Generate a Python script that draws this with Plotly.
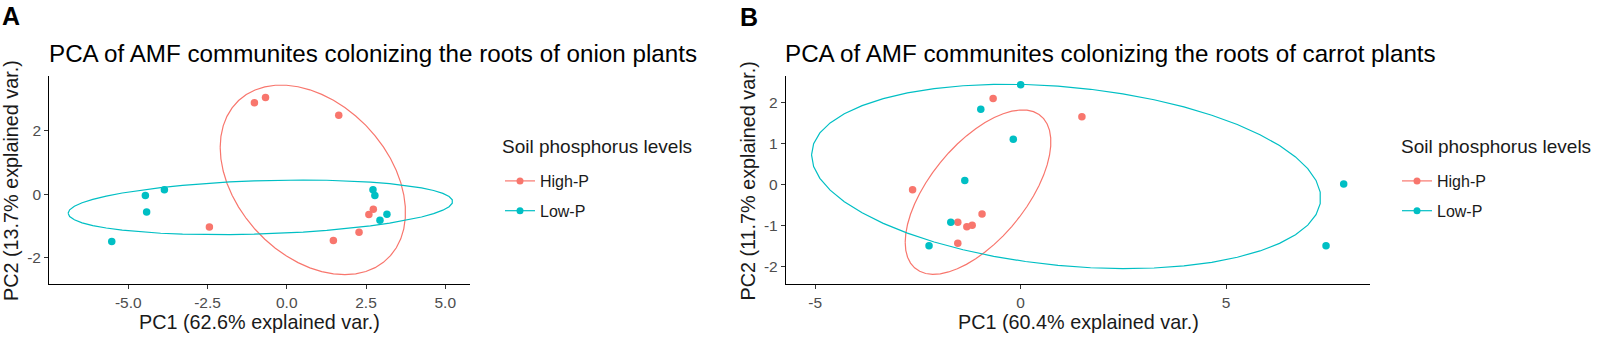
import numpy as np
import plotly.graph_objects as go

# ---------------- data ----------------
groups = ["High-P", "Low-P"]
colors = {"High-P": "#F8766D", "Low-P": "#00BFC4"}

# Panel A: onion
onion_high_pc1 = [-1.02, -0.67, 1.64, -2.44, 1.47, 2.28, 2.59, 2.73]
onion_high_pc2 = [2.89, 3.05, 2.49, -1.03, -1.46, -1.20, -0.64, -0.47]
onion_low_pc1 = [-5.52, -4.46, -4.42, -3.86, 2.72, 2.78, 2.94, 3.16]
onion_low_pc2 = [-1.49, -0.04, -0.56, 0.14, 0.14, -0.04, -0.82, -0.63]

# Panel B: carrot
carrot_high_pc1 = [-0.67, 1.49, -2.63, -1.53, -1.31, -1.18, -0.94, -1.53]
carrot_high_pc2 = [2.09, 1.65, -0.13, -0.92, -1.03, -0.99, -0.72, -1.43]
carrot_low_pc1 = [0.00, -0.97, -0.18, -1.36, -1.70, -2.23, 7.86, 7.43]
carrot_low_pc2 = [2.43, 1.83, 1.10, 0.10, -0.92, -1.49, 0.01, -1.49]

# ticks
a_xticks = [-5.0, -2.5, 0.0, 2.5, 5.0]
a_xticklabels = ["-5.0", "-2.5", "0.0", "2.5", "5.0"]
a_yticks = [-2, 0, 2]
a_yticklabels = ["-2", "0", "2"]
b_xticks = [-5, 0, 5]
b_xticklabels = ["-5", "0", "5"]
b_yticks = [-2, -1, 0, 1, 2]
b_yticklabels = ["-2", "-1", "0", "1", "2"]

title_a = "PCA of AMF communites colonizing the roots of onion plants"
title_b = "PCA of AMF communites colonizing the roots of carrot plants"
xlab_a = "PC1 (62.6% explained var.)"
ylab_a = "PC2 (13.7% explained var.)"
xlab_b = "PC1 (60.4% explained var.)"
ylab_b = "PC2 (11.7% explained var.)"
legend_title = "Soil phosphorus levels"

ELLIPSE_PROB = 0.68

W, H = 1600, 337
FONT = "Liberation Sans, Arial, sans-serif"
TXT = "#1a1a1a"


def px(x):
    return x / W


def py(y):
    return 1 - y / H


def ellipse(xs, ys, prob=ELLIPSE_PROB):
    # ggbiplot-style normal data ellipse
    theta = np.concatenate([np.linspace(-np.pi, np.pi, 50), np.linspace(np.pi, -np.pi, 50)])
    circle = np.column_stack([np.cos(theta), np.sin(theta)])
    data = np.column_stack([xs, ys])
    sigma = np.cov(data, rowvar=False)
    mu = data.mean(axis=0)
    ed = np.sqrt(-2 * np.log(1 - prob))  # qchisq(prob, df=2)
    R = np.linalg.cholesky(sigma).T
    pts = circle @ R * ed + mu
    return pts[:, 0], pts[:, 1]


fig = go.Figure()

panels = [
    ("x", "y", "legend", {"High-P": (onion_high_pc1, onion_high_pc2), "Low-P": (onion_low_pc1, onion_low_pc2)}),
    ("x2", "y2", "legend2", {"High-P": (carrot_high_pc1, carrot_high_pc2), "Low-P": (carrot_low_pc1, carrot_low_pc2)}),
]

for xa, ya, leg, d in panels:
    for g in groups:
        xs, ys = d[g]
        ex, ey = ellipse(xs, ys)
        fig.add_trace(go.Scatter(x=ex, y=ey, mode="lines", line=dict(color=colors[g], width=1.2),
                                 xaxis=xa, yaxis=ya, showlegend=False, hoverinfo="skip"))
    for g in groups:
        xs, ys = d[g]
        fig.add_trace(go.Scatter(x=xs, y=ys, mode="markers", marker=dict(color=colors[g], size=7.5),
                                 xaxis=xa, yaxis=ya, showlegend=False))
    for g in groups:
        fig.add_trace(go.Scatter(x=[None], y=[None], mode="lines+markers", name=g,
                                 line=dict(color=colors[g], width=1.2), marker=dict(color=colors[g], size=7),
                                 xaxis=xa, yaxis=ya, legend=leg, legendgroup=leg + g))

ydom = [py(284), py(76)]
axis_common = dict(showgrid=False, zeroline=False, showline=True, linecolor="#000000", linewidth=1.2,
                   ticks="outside", ticklen=4, tickcolor="#333333", tickwidth=1,
                   tickfont=dict(family=FONT, size=15.5, color="#4D4D4D"), fixedrange=True)

legend_common = dict(xanchor="left", yanchor="top", font=dict(size=16, family=FONT, color=TXT),
                     tracegroupgap=6, bgcolor="rgba(0,0,0,0)")

fig.update_layout(
    width=W, height=H,
    margin=dict(l=0, r=0, t=0, b=0),
    paper_bgcolor="white", plot_bgcolor="white",
    font=dict(family=FONT, color="#000000"),
    xaxis=dict(domain=[px(49.3), px(470)], range=[-7.49, 5.78], tickvals=a_xticks, ticktext=a_xticklabels,
               anchor="y", **axis_common),
    yaxis=dict(domain=ydom, range=[-2.83, 3.73], tickvals=a_yticks, ticktext=a_yticklabels,
               anchor="x", **axis_common),
    xaxis2=dict(domain=[px(786), px(1370)], range=[-5.71, 8.50], tickvals=b_xticks, ticktext=b_xticklabels,
                anchor="y2", **axis_common),
    yaxis2=dict(domain=ydom, range=[-2.42, 2.64], tickvals=b_yticks, ticktext=b_yticklabels,
                anchor="x2", **axis_common),
    legend=dict(x=px(500), y=py(164), **legend_common),
    legend2=dict(x=px(1397), y=py(164), **legend_common),
)

ann = []
# panel letters
ann.append(dict(text="<b>A</b>", x=px(0), y=py(0), xanchor="left", yanchor="top",
                font=dict(size=25, family=FONT, color="#000")))
ann.append(dict(text="<b>B</b>", x=px(738), y=py(1), xanchor="left", yanchor="top",
                font=dict(size=25, family=FONT, color="#000")))
# titles
ann.append(dict(text=title_a, x=px(47), y=py(53), xanchor="left", yanchor="middle",
                font=dict(size=24.2, family=FONT, color="#000")))
ann.append(dict(text=title_b, x=px(783), y=py(53), xanchor="left", yanchor="middle",
                font=dict(size=24.2, family=FONT, color="#000")))
# legend titles
ann.append(dict(text=legend_title, x=px(500), y=py(146), xanchor="left", yanchor="middle",
                font=dict(size=19, family=FONT, color=TXT)))
ann.append(dict(text=legend_title, x=px(1399), y=py(146), xanchor="left", yanchor="middle",
                font=dict(size=19, family=FONT, color=TXT)))
# axis titles
ann.append(dict(text=xlab_a, x=px(259.7), y=py(322), xanchor="center", yanchor="middle",
                font=dict(size=19.8, family=FONT, color=TXT)))
ann.append(dict(text=xlab_b, x=px(1078), y=py(322), xanchor="center", yanchor="middle",
                font=dict(size=19.8, family=FONT, color=TXT)))
ann.append(dict(text=ylab_a, x=px(11), y=py(181), xanchor="center", yanchor="middle", textangle=-90,
                font=dict(size=19.8, family=FONT, color=TXT)))
ann.append(dict(text=ylab_b, x=px(747.5), y=py(181), xanchor="center", yanchor="middle", textangle=-90,
                font=dict(size=19.8, family=FONT, color=TXT)))
for a in ann:
    a.update(xref="paper", yref="paper", showarrow=False)
fig.update_layout(annotations=ann)

fig.write_html("out.html", config={"displayModeBar": False, "staticPlot": True},
               post_script="document.body.style.margin='0';document.body.style.padding='0';"
                           "document.body.style.overflow='hidden';")
